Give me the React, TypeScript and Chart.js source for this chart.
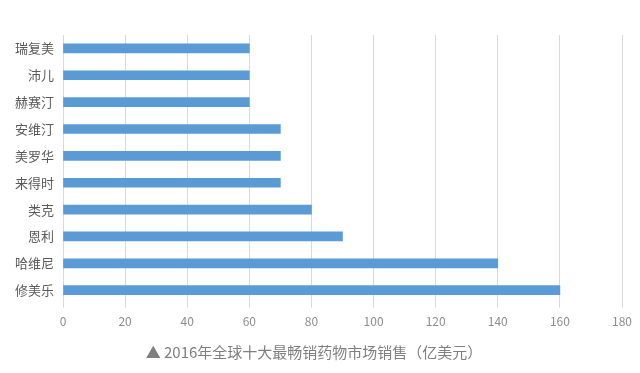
import React, { useEffect, useRef } from "react";
import { Chart, registerables } from "chart.js";

Chart.register(...registerables);

const categories = ["瑞复美", "沛儿", "赫赛汀", "安维汀", "美罗华", "来得时", "类克", "恩利", "哈维尼", "修美乐"];
const sales = [60, 60, 60, 70, 70, 70, 80, 90, 140, 160];
const xMin = 0;
const xMax = 180;
const xStep = 20;
const caption = "▲ 2016年全球十大最畅销药物市场销售（亿美元）";

const FONT = "'Noto Sans CJK SC', 'Noto Sans', sans-serif";

export default function App() {
  const ref = useRef<HTMLCanvasElement | null>(null);

  useEffect(() => {
    document.body.style.margin = "0";
    const ctx = ref.current!;
    const chart = new Chart(ctx, {
      type: "bar",
      data: {
        labels: categories,
        datasets: [
          {
            data: sales,
            backgroundColor: "#5B9BD5",
            borderWidth: 0,
            barThickness: 9,
          },
        ],
      },
      options: {
        indexAxis: "y",
        animation: false,
        responsive: false,
        maintainAspectRatio: false,
        layout: { padding: { top: 35, right: 18, left: 6, bottom: 12 } },
        plugins: {
          legend: { display: false },
          tooltip: { enabled: false },
          title: {
            display: true,
            text: caption,
            position: "bottom",
            color: "#7f7f7f",
            font: { family: FONT, size: 15, weight: "normal" },
            padding: { top: 7, bottom: 0 },
          },
        },
        scales: {
          x: {
            min: xMin,
            max: xMax,
            ticks: {
              stepSize: xStep,
              color: "#8c8c8c",
              font: { family: FONT, size: 12 },
              padding: 7,
            },
            grid: {
              color: "#D9D9D9",
              lineWidth: 1,
              tickLength: 4,
              drawTicks: true,
            },
            border: { display: false },
          },
          y: {
            ticks: {
              color: "#595959",
              font: { family: FONT, size: 13 },
              padding: 9,
            },
            grid: { display: false, drawTicks: false },
            border: { display: true, color: "#D9D9D9" },
          },
        },
      },
    });
    return () => chart.destroy();
  }, []);

  return (
    <div style={{ width: 640, height: 373, background: "#fff" }}>
      <canvas ref={ref} width={640} height={373} />
    </div>
  );
}
